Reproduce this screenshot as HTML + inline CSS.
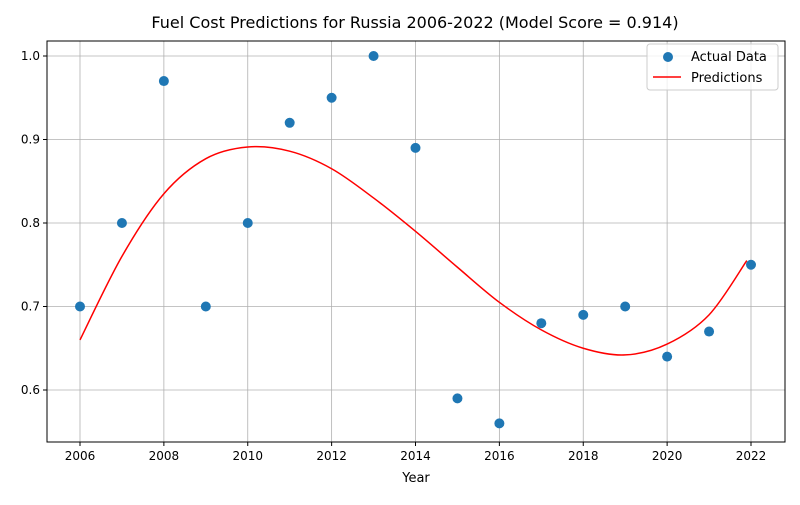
<!DOCTYPE html>
<html><head><meta charset="utf-8"><style>
body{margin:0;background:#fff;font-family:"Liberation Sans","DejaVu Sans",sans-serif}
</style></head><body>
<svg id="chart" width="800" height="500" xmlns="http://www.w3.org/2000/svg" font-family="DejaVu Sans, Liberation Sans, sans-serif">
<text x="415" y="28" text-anchor="middle" font-size="16" fill="#000">Fuel Cost Predictions for Russia 2006-2022 (Model Score = 0.914)</text>
<g id="grid"></g><g id="marks"></g><g id="axes"></g>
<text x="416" y="482" text-anchor="middle" font-size="13">Year</text>
<g>
<rect x="647" y="44" width="131" height="46" rx="3" fill="#fff" fill-opacity="0.8" stroke="#ccc"/>
<circle cx="668" cy="57" r="5" fill="#1f77b4"/>
<text x="691" y="61" font-size="13">Actual Data</text>
<line x1="653" y1="77" x2="681" y2="77" stroke="red" stroke-width="1.5"/>
<text x="691" y="82" font-size="13">Predictions</text>
</g>
</svg>
<script>
const years=[2006,2007,2008,2009,2010,2011,2012,2013,2014,2015,2016,2017,2018,2019,2020,2021,2022];
const actual=[0.70,0.80,0.97,0.70,0.80,0.92,0.95,1.00,0.89,0.59,0.56,0.68,0.69,0.70,0.64,0.67,0.75];
const predYears=[2006,2007,2008,2009,2010,2011,2012,2013,2014,2015,2016,2017,2018,2019,2020,2021,2021.9];
const predicted=[0.66,0.76,0.835,0.877,0.891,0.886,0.865,0.83,0.79,0.747,0.705,0.672,0.65,0.642,0.655,0.69,0.755];
const xTicks=[2006,2008,2010,2012,2014,2016,2018,2020,2022];
const yTicks=[0.6,0.7,0.8,0.9,1.0];
const L=47,R=785,T=41,B=442;
const x=v=>80+(v-2006)*(751-80)/16;
const y=v=>390-(v-0.6)*(390-56)/0.4;
const NS="http://www.w3.org/2000/svg";
function mk(tag,attrs,parent){const e=document.createElementNS(NS,tag);for(const k in attrs)e.setAttribute(k,attrs[k]);document.getElementById(parent).appendChild(e);return e;}
xTicks.forEach(t=>{
 const g=mk('line',{x1:x(t),x2:x(t),y1:T,y2:B,stroke:'#b0b0b0','stroke-width':0.8},'grid');
 
 
 mk('line',{x1:x(t),x2:x(t),y1:B,y2:B+4,stroke:'#000'},'axes');
 const tx=mk('text',{x:x(t),y:B+18,'text-anchor':'middle','font-size':12},'axes');tx.textContent=t;
 
 
});
yTicks.forEach(t=>{
 const g=mk('line',{x1:L,x2:R,y1:y(t),y2:y(t),stroke:'#b0b0b0','stroke-width':0.8},'grid');
 
 
 mk('line',{x1:L-4,x2:L,y1:y(t),y2:y(t),stroke:'#000'},'axes');
 const tx=mk('text',{x:L-7,y:y(t)+4,'text-anchor':'end','font-size':12},'axes');tx.textContent=t.toFixed(1);
 
 
});
const frame=mk('rect',{x:L,y:T,width:R-L,height:B-T,fill:'none',stroke:'#000','stroke-width':1},'axes');


// smooth prediction curve (Catmull-Rom)
const P=predYears.map((v,i)=>[x(v),y(predicted[i])]);
let d=`M${P[0][0]},${P[0][1]}`;
for(let i=0;i<P.length-1;i++){const p0=P[Math.max(0,i-1)],p1=P[i],p2=P[i+1],p3=P[Math.min(P.length-1,i+2)];
 d+=` C${p1[0]+(p2[0]-p0[0])/6},${p1[1]+(p2[1]-p0[1])/6} ${p2[0]-(p3[0]-p1[0])/6},${p2[1]-(p3[1]-p1[1])/6} ${p2[0]},${p2[1]}`;}
const line=mk('path',{d:d,fill:'none',stroke:'red','stroke-width':1.5},'marks');


years.forEach((yr,i)=>{
 const c=mk('circle',{cx:x(yr),cy:y(actual[i]),r:5,fill:'#1f77b4'},'marks');
 
 
});
</script>
</body></html>
